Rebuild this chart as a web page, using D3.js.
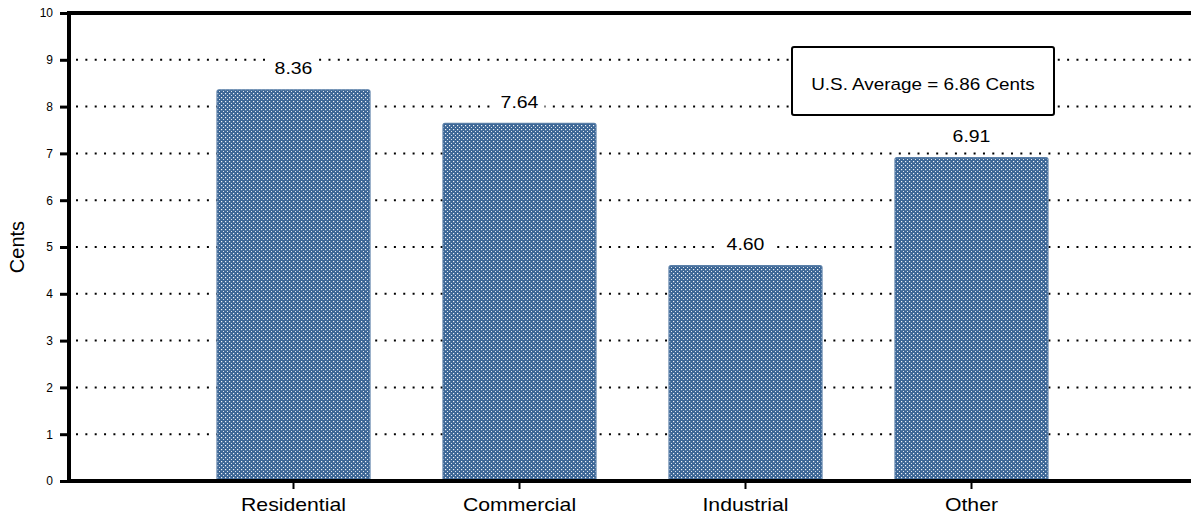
<!DOCTYPE html>
<html><head><meta charset="utf-8">
<script src="https://cdn.jsdelivr.net/npm/d3@7"></script>
<style>body{margin:0;background:#fff}svg{display:block;font-family:"Liberation Sans",Arial,sans-serif}</style>
</head><body>
<svg id="c" width="1191" height="515"></svg>
<script>
const categories = ["Residential", "Commercial", "Industrial", "Other"];
const values = [8.36, 7.64, 4.60, 6.91];
const valueLabels = ["8.36", "7.64", "4.60", "6.91"];
const yTicks = [0,1,2,3,4,5,6,7,8,9,10];
const annotation = "U.S. Average = 6.86 Cents";
const yTitle = "Cents";

const svg = d3.select("#c");
const W = 1191;
const axisX = 69;
const SX = 1.18; // horizontal stretch of text in reference
const y = d3.scaleLinear().domain([0,10]).range([481,13]);
const x = d3.scaleBand().domain(categories).range([180.5,1084.5]).paddingInner(0.323).paddingOuter(0.1615);

const defs = svg.append("defs");
const pat = defs.append("pattern").attr("id","dots").attr("patternUnits","userSpaceOnUse").attr("width",4).attr("height",4);
pat.append("rect").attr("width",4).attr("height",4).attr("fill","#3d6796");
pat.append("rect").attr("x",1).attr("y",1).attr("width",1.2).attr("height",1.2).attr("fill","#f2f5f9");
pat.append("rect").attr("x",3).attr("y",3).attr("width",1.2).attr("height",1.2).attr("fill","#dfe6ef");

// gridlines
svg.append("g").selectAll("line").data(yTicks.filter(d=>d>0 && d<10)).join("line")
  .attr("x1",76).attr("x2",W).attr("y1",d=>y(d)).attr("y2",d=>y(d))
  .attr("stroke","#000").attr("stroke-width",2).attr("stroke-dasharray","2,7.35");

// bars
svg.append("g").selectAll("rect").data(values).join("rect")
  .attr("x",(d,i)=>x(categories[i])).attr("width",x.bandwidth())
  .attr("y",d=>y(d)).attr("height",d=>y(0)-y(d))
  .attr("rx",2)
  .attr("fill","url(#dots)").attr("stroke","#5a7fa8").attr("stroke-width",1.2);

// value labels with white background
const lg = svg.append("g").selectAll("g").data(values).join("g")
  .attr("transform",(d,i)=>`translate(${x(categories[i])+x.bandwidth()/2},${y(d)-21.5})`);
lg.append("rect").attr("x",-25).attr("y",-11).attr("width",50).attr("height",22).attr("fill","#fff");
lg.append("text").attr("text-anchor","middle").attr("dy","0.36em").attr("font-size",16.5).attr("fill","#000")
  .attr("transform",`scale(${SX},1)`)
  .text((d,i)=>valueLabels[i]);

// axes lines
svg.append("line").attr("x1",axisX-2).attr("x2",W).attr("y1",13).attr("y2",13).attr("stroke","#000").attr("stroke-width",4);
svg.append("line").attr("x1",axisX-2).attr("x2",W).attr("y1",y(0)).attr("y2",y(0)).attr("stroke","#000").attr("stroke-width",4);
svg.append("line").attr("x1",axisX).attr("x2",axisX).attr("y1",11).attr("y2",483).attr("stroke","#000").attr("stroke-width",4);

// y axis ticks
const yAxis = d3.axisLeft(y).tickValues(yTicks).tickSize(8).tickPadding(7).tickFormat(d3.format("d"));
const ya = svg.append("g").attr("transform",`translate(${axisX-1},0)`).call(yAxis);
ya.select(".domain").remove();
ya.selectAll(".tick line").attr("stroke","#000").attr("stroke-width",3);
ya.selectAll(".tick text").attr("font-size",12).attr("fill","#000").attr("font-family","Liberation Sans, Arial, sans-serif");

// x axis
const xAxis = d3.axisBottom(x).tickSize(8).tickPadding(9);
const xa = svg.append("g").attr("transform",`translate(0,${y(0)})`).call(xAxis);
xa.select(".domain").remove();
xa.selectAll(".tick line").attr("stroke","#000").attr("stroke-width",2);
xa.selectAll(".tick text").attr("font-size",18).attr("fill","#000").attr("font-family","Liberation Sans, Arial, sans-serif")
  .attr("transform",`scale(${SX},1)`);

// y title
svg.append("text").attr("transform","translate(24,247) rotate(-90)").attr("text-anchor","middle")
  .attr("font-size",20).attr("fill","#000").text(yTitle);

// annotation box
const ag = svg.append("g").attr("transform","translate(792,47)");
ag.append("rect").attr("width",262).attr("height",68).attr("rx",2).attr("fill","#fff").attr("stroke","#000").attr("stroke-width",2);
ag.append("text").attr("transform",`translate(131,43) scale(${SX},1)`).attr("text-anchor","middle").attr("font-size",16).attr("fill","#000").text(annotation);
</script>
</body></html>
